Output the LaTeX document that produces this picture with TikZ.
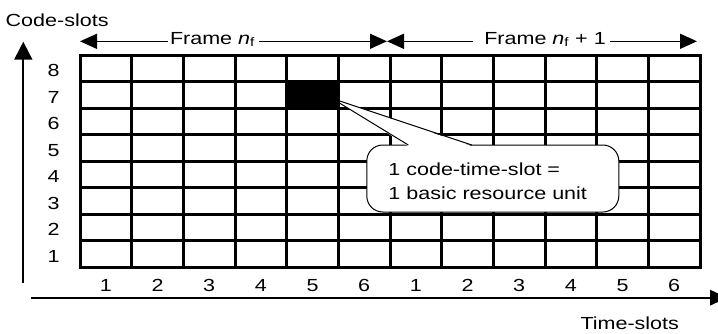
\documentclass[tikz,border=0pt]{standalone}
\usepackage{fontspec}
\usepackage{graphicx}
\setmainfont{Liberation Sans}
\newcommand\widetext[1]{\scalebox{1.23}[1]{#1}}
\usetikzlibrary{arrows.meta,calc}
\begin{document}
\begin{tikzpicture}[x=1pt,y=-1pt,
  lbl/.style={inner sep=0pt,outer sep=0pt,font=\fontsize{17.5}{21}\selectfont},
  cellrule/.style={line width=3pt,line cap=rect},
  axis/.style={line width=1.8pt},
  frameline/.style={line width=1.5pt},
  thinline/.style={line width=1pt}]
\useasboundingbox (0,0) rectangle (718,333);
\clip (0,0) rectangle (718,333);

% resource grid: 12 time-slots x 8 code-slots
\node[inner sep=0pt,outer sep=0pt,minimum width=620pt,minimum height=212pt] (grid) at (390,161) {};
\node[inner sep=0pt,outer sep=0pt,minimum width=51.667pt,minimum height=26.5pt,anchor=north west]
  (cell) at ($(grid.north west)+(4*51.667,26.5)$) {};
\foreach \i in {0,...,12}
  \draw[cellrule] ($(grid.north west)!\i/12!(grid.north east)$) -- ($(grid.south west)!\i/12!(grid.south east)$);
\foreach \j in {0,...,8}
  \draw[cellrule] ($(grid.north west)!\j/8!(grid.south west)$) -- ($(grid.north east)!\j/8!(grid.south east)$);

% callout
\node[draw,thinline,fill=white,rounded corners=16pt,minimum width=252pt,minimum height=67pt,
  inner sep=0pt,outer sep=0pt] (callout) at (492.8,178.5) {};
\coordinate (tip) at ($(cell.south east)+(-6.6,-9.7)$);
\coordinate (pl) at ($(callout.north west)+(41.5,0)$);
\coordinate (pr) at ($(callout.north west)+(105,0)$);
\fill[white] ($(pl)+(0,1.2)$) -- (tip) -- ($(pr)+(0,1.2)$) -- cycle;
\draw[thinline,line join=miter] (pl) -- (tip) -- (pr);
\node[lbl,anchor=base west] (note1) at (388.4,175) {\widetext{1 code-time-slot =}};
\node[lbl,anchor=base west] (note2) at (388.4,199.3) {\widetext{1 basic resource unit}};

% the occupied code-time-slot
\draw[cellrule,fill=black] (cell.north west) rectangle (cell.south east);

% slot numbers
\foreach \k in {1,...,8}
  \node[lbl,anchor=base] (row\k) at (53.7,{267-(\k-0.5)*26.5+8.7}) {\widetext{\k}};
\foreach \i in {1,...,12}{
  \pgfmathtruncatemacro{\n}{mod(\i-1,6)+1}
  \node[lbl,anchor=base] (col\i) at ({80+(\i-0.5)*620/12},291) {\widetext{\n}};
}

% axes
\node[lbl,anchor=base west] (ylabel) at (5.7,26) {\widetext{Code-slots}};
\node[lbl,anchor=base west] (xlabel) at (580.5,329) {\widetext{Time-slots}};
\coordinate (yfoot) at (23.3,283);
\coordinate (yhead) at (23.3,41.7);
\draw[axis,-{Triangle[length=18pt,width=18pt]}] (yfoot) -- (yhead);
\coordinate (xfoot) at (30.7,297.7);
\coordinate (xhead) at (727,297.7);
\draw[axis,-{Triangle[length=17pt,width=15.5pt]}] (xfoot) -- (xhead);

% frame extents
\node[lbl,anchor=base west] (frame1) at (170,44) {\widetext{Frame \textit{n}\textsubscript{f}}};
\node[lbl,anchor=base west] (frame2) at (484.3,44) {\widetext{Frame \textit{n}\textsubscript{f} + 1}};
\coordinate (f1l) at (80,41.3);
\coordinate (mid) at (387,41.3);
\coordinate (f2r) at (697,41.3);
\draw[frameline,{Triangle[length=17pt,width=15pt]}-] (f1l) -- ($(frame1.west |- f1l)+(-1.7,0)$);
\draw[frameline,-{Triangle[length=17pt,width=15pt]}] ($(frame1.east |- f1l)+(4,0)$) -- (mid);
\draw[frameline,{Triangle[length=17pt,width=15pt]}-] (mid) -- ($(frame2.west |- mid)+(-11,0)$);
\draw[frameline,-{Triangle[length=17pt,width=15pt]}] ($(frame2.east |- mid)+(4.5,0)$) -- (f2r);
\end{tikzpicture}
\end{document}
